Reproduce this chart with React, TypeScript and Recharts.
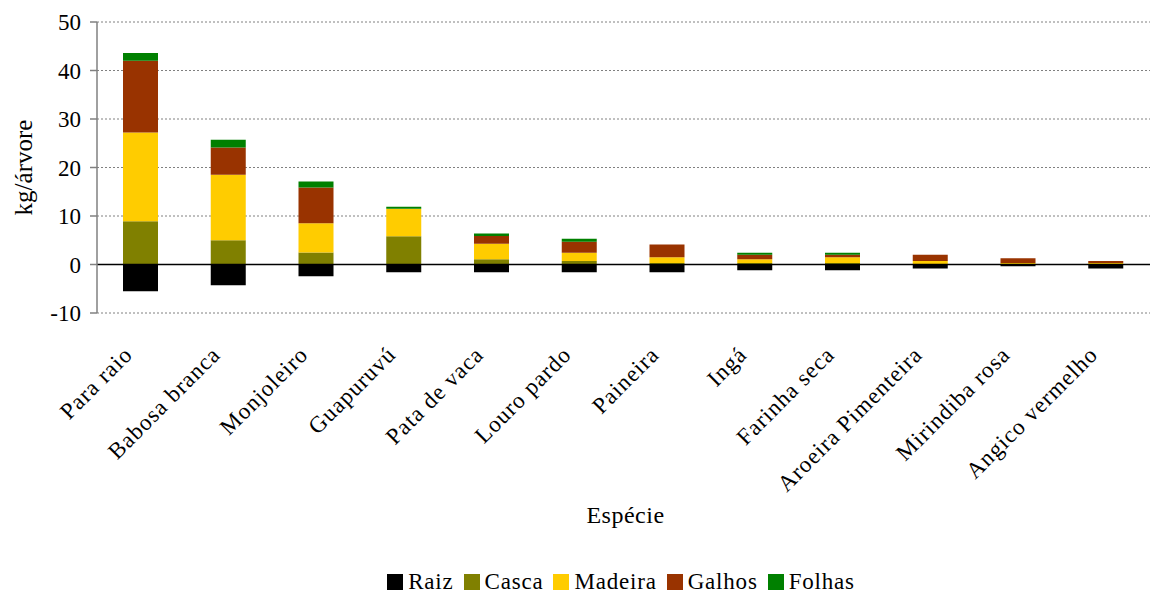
import { BarChart, Bar, XAxis, YAxis, CartesianGrid, ReferenceLine, Legend, Label } from 'recharts'

const especies = [
  'Para raio', 'Babosa branca', 'Monjoleiro', 'Guapuruvú', 'Pata de vaca', 'Louro pardo',
  'Paineira', 'Ingá', 'Farinha seca', 'Aroeira Pimenteira', 'Mirindiba rosa', 'Angico vermelho',
]
const raiz = [-5.5, -4.3, -2.4, -1.6, -1.6, -1.6, -1.6, -1.2, -1.2, -0.8, -0.35, -0.8]
const casca = [8.9, 5.0, 2.5, 5.8, 1.1, 0.7, 0.3, 0.3, 0.3, 0.1, 0.05, 0.05]
const madeira = [18.3, 13.5, 6.0, 5.7, 3.2, 1.7, 1.2, 0.8, 1.2, 0.6, 0.25, 0.25]
const galhos = [14.8, 5.6, 7.4, 0, 1.6, 2.3, 2.6, 0.9, 0.5, 1.3, 1.0, 0.4]
const folhas = [1.6, 1.6, 1.2, 0.4, 0.5, 0.6, 0, 0.4, 0.4, 0, 0, 0]
const yTicks = [-10, 0, 10, 20, 30, 40, 50]

const SERIES = [
  { key: 'raiz', name: 'Raiz', color: '#000000' },
  { key: 'casca', name: 'Casca', color: '#808000' },
  { key: 'madeira', name: 'Madeira', color: '#FFCC00' },
  { key: 'galhos', name: 'Galhos', color: '#993300' },
  { key: 'folhas', name: 'Folhas', color: '#008000' },
]

const FONT = 'Liberation Serif'

const data = especies.map((nome, i) => ({
  nome,
  raiz: raiz[i],
  casca: casca[i],
  madeira: madeira[i],
  galhos: galhos[i],
  folhas: folhas[i],
}))

interface TickProps {
  x?: number
  y?: number
  payload?: { value: string }
}

// species names, rotated 45° and ending just left of the bar centre
const SpeciesTick = ({ x = 0, y = 0, payload }: TickProps) => {
  const tx = x - 7
  const ty = y + 35
  return (
    <text
      x={tx}
      y={ty}
      transform={`rotate(-45, ${tx}, ${ty})`}
      textAnchor="end"
      style={{ fontFamily: FONT, fontSize: 23, letterSpacing: 1 }}
      fill="#000"
    >
      {payload?.value}
    </text>
  )
}

const LegendBox = () => (
  <div style={{ display: 'flex', justifyContent: 'center', alignItems: 'center', height: 30, marginLeft: 92, fontFamily: FONT, fontSize: 23, letterSpacing: 0.8, color: '#000' }}>
    {SERIES.map((s) => (
      <span key={s.key} style={{ display: 'flex', alignItems: 'center', margin: '0 5px' }}>
        <span style={{ width: 16, height: 16, background: s.color, marginRight: 5, display: 'inline-block' }} />
        {s.name}
      </span>
    ))}
  </div>
)

export default function App() {
  return (
    <div style={{ position: 'absolute', left: 0, top: 0, background: '#fff', fontFamily: FONT }}>
      <BarChart
        width={1154}
        height={597}
        data={data}
        stackOffset="sign"
        barSize={35}
        margin={{ top: 22, right: 4, left: 0, bottom: 0 }}
      >
        <CartesianGrid vertical={false} stroke="#808080" strokeDasharray="2 2" />
        <XAxis
          dataKey="nome"
          interval={0}
          height={254}
          axisLine={false}
          tickLine={false}
          tick={<SpeciesTick />}
        >
          <Label
            content={({ viewBox }: any) => (
              <text
                x={viewBox.x + viewBox.width / 2 + 2}
                y={523}
                textAnchor="middle"
                style={{ fontFamily: FONT, fontSize: 24, letterSpacing: 0.5 }}
                fill="#000"
              >
                Espécie
              </text>
            )}
          />
        </XAxis>
        <YAxis
          width={97}
          domain={[-10, 50]}
          ticks={yTicks}
          interval={0}
          axisLine={{ stroke: '#808080', strokeWidth: 1.5 }}
          tickLine={{ stroke: '#808080', strokeWidth: 1.5 }}
          tickSize={7}
          tickMargin={9}
          tick={{ fontFamily: FONT, fontSize: 23, fill: '#000' }}
        >
          <Label
            content={({ viewBox }: any) => {
              const cx = 23
              const cy = viewBox.y + viewBox.height / 2
              return (
                <text
                  x={cx}
                  y={cy}
                  transform={`rotate(-90, ${cx}, ${cy})`}
                  textAnchor="middle"
                  dominantBaseline="central"
                  style={{ fontFamily: FONT, fontSize: 25 }}
                  fill="#000"
                >
                  kg/árvore
                </text>
              )
            }}
          />
        </YAxis>
        {SERIES.map((s) => (
          <Bar key={s.key} dataKey={s.key} name={s.name} stackId="a" fill={s.color} isAnimationActive={false} />
        ))}
        <ReferenceLine y={0} stroke="#000" strokeWidth={1.5} />
        <Legend verticalAlign="bottom" content={<LegendBox />} />
      </BarChart>
    </div>
  )
}
